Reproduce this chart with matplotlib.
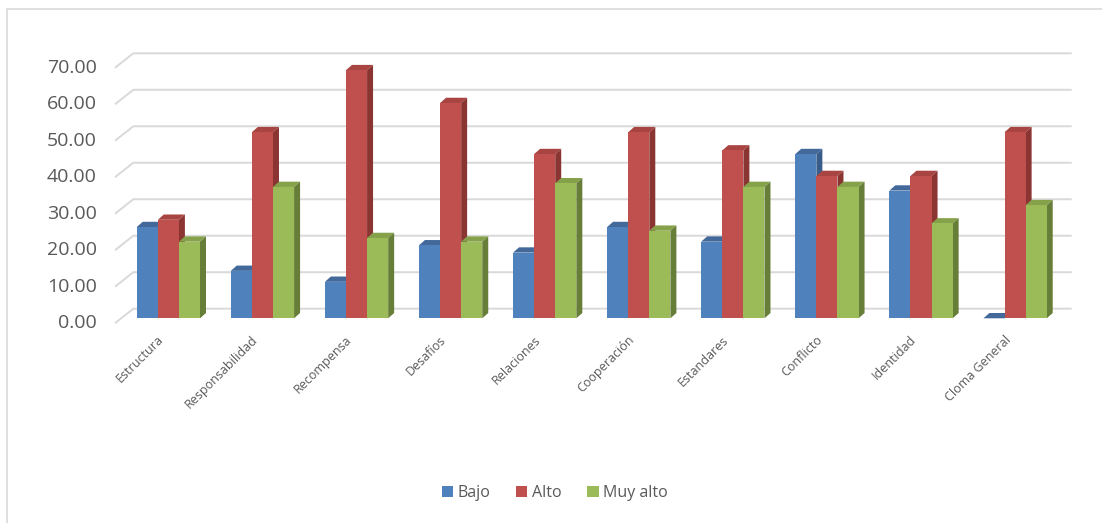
import matplotlib
matplotlib.use("Agg")
import matplotlib.pyplot as plt
from matplotlib.patches import Polygon, Rectangle, Patch

categories = ["Estructura", "Responsabilidad", "Recompensa", "Desafíos", "Relaciones",
              "Cooperación", "Estandares", "Conflicto", "Identidad", "Cloma General"]
bajo = [25, 13, 10, 20, 18, 25, 21, 45, 35, 0]
alto = [27, 51, 68, 59, 45, 51, 46, 39, 39, 51]
muy_alto = [21, 36, 22, 21, 37, 24, 36, 36, 26, 31]
series_names = ["Bajo", "Alto", "Muy alto"]
yticks = [0, 10, 20, 30, 40, 50, 60, 70]

front = ["#4F81BD", "#C0504D", "#9BBB59"]
side = ["#385D8A", "#8B3533", "#677E39"]
top = ["#42699A", "#A84441", "#85A24B"]

W, H = 1102, 523
fig = plt.figure(figsize=(W / 100, H / 100), dpi=100)
# axes in pixel terms
x0_px, xw_px = 121.31, 940.8
y0_px, yh_px = 318.3, 255.4
ax = fig.add_axes([x0_px / W, (H - y0_px) / H, xw_px / W, yh_px / H])
ax.set_xlim(-0.5, 9.5)
ax.set_ylim(0, 70)
ax.axis("off")

sx = xw_px / 10.0      # px per category unit
sy = yh_px / 70.0      # px per value unit

def px2x(p):
    return p / sx

def px2y(p):
    return p / sy

# gridlines (back wall + floor diagonal)
gx_left = px2x(133.3 - x0_px) - 0.5
gx_right = px2x(1071.7 - x0_px) - 0.5
g_up = px2y(9.6)
dg_x = px2x(115 - x0_px) - 0.5
dg_y = px2y(14.5)
for v in yticks:
    ax.plot([dg_x, gx_left, gx_right], [v + g_up - dg_y, v + g_up, v + g_up],
            color="#D9D9D9", lw=1.4, clip_on=False, zorder=1, solid_capstyle="butt")
    ax.text(px2x(97 - x0_px) - 0.5, v + g_up - dg_y, f"{v:.2f}", ha="right", va="center",
            fontsize=14, color="#595959", family="Open Sans")

# bars with 3D faces
bw = 21.1 / sx
ddx = px2x(6.0)
ddy = px2y(5.3)
all_series = [bajo, alto, muy_alto]
for i in range(len(categories)):
    for s, vals in enumerate(all_series):
        h = vals[i]
        xl = i + (s - 1.5) * bw
        xr = xl + bw
        z = 3 + s + i * 3
        # top face
        ax.add_patch(Polygon([(xl, h), (xr, h), (xr + ddx, h + ddy), (xl + ddx, h + ddy)],
                             closed=True, facecolor=top[s], edgecolor="none", zorder=z, clip_on=False))
        if h > 0:
            # side face
            ax.add_patch(Polygon([(xr, 0), (xr + ddx, ddy), (xr + ddx, h + ddy), (xr, h)],
                                 closed=True, facecolor=side[s], edgecolor="none", zorder=z, clip_on=False))
            ax.bar(xl, h, width=bw, align="edge", color=front[s], edgecolor="none",
                   zorder=z + 0.5, clip_on=False)

# category labels
for i, c in enumerate(categories):
    ax.text(i - px2x(4), px2y(-22), c, rotation=45, rotation_mode="anchor",
            ha="right", va="baseline", fontsize=9, color="#595959", family="Open Sans")

# legend
handles = [Patch(facecolor=front[k], edgecolor="none") for k in range(3)]
fig.legend(handles, series_names, loc="center", bbox_to_anchor=(555 / W, 1 - 493 / H),
           ncol=3, frameon=False, handlelength=0.7, handleheight=0.7, handletextpad=0.3,
           columnspacing=1.6, prop={"family": "Open Sans", "size": 11.5}, labelcolor="#595959")

# chart border (left and top visible)
fig.patches.append(Rectangle((6.5 / W, -0.1), 2.0, (H - 9.5) / H + 0.1, transform=fig.transFigure,
                             fill=False, edgecolor="#D9D9D9", lw=1.2))

fig.savefig("out.png", dpi=100, facecolor="white")
